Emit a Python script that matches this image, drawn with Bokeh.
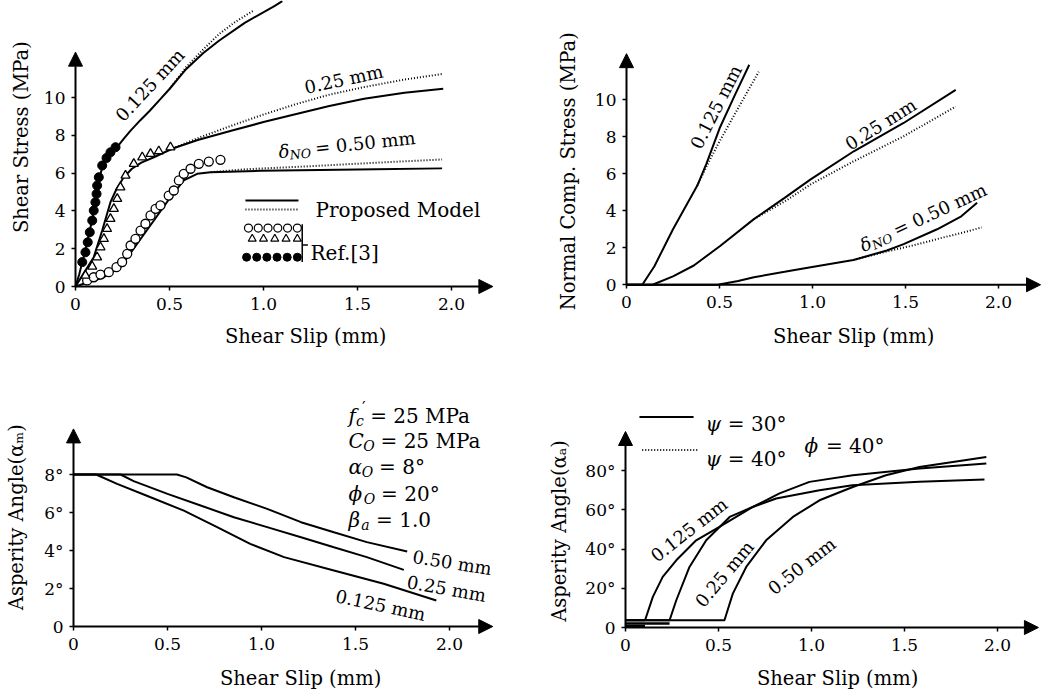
import math
import numpy as np
from bokeh.plotting import figure
from bokeh.models import Range1d, FixedTicker, Label, Arrow, NormalHead, Title
from bokeh.layouts import column, row
from bokeh.embed import file_html
from bokeh.resources import INLINE

FONT = "DejaVu Serif"

# ---------------------------------------------------------------- data
slip_ticks = [0, 0.5, 1.0, 1.5, 2.0]
slip_tick_labels = ["0", "0.5", "1.0", "1.5", "2.0"]

# Panel 1: shear stress (MPa) vs shear slip (mm)
tau_ticks = [0, 2, 4, 6, 8, 10]
tau_tick_labels = ["0", "2", "4", "6", "8", "10"]
tau_125_solid_x = [0, 0.02, 0.035, 0.05, 0.07, 0.09, 0.105, 0.115, 0.125, 0.14, 0.165, 0.19, 0.215,
                   0.255, 0.293, 0.345, 0.395, 0.45, 0.50, 0.588, 0.68, 0.763, 0.90, 1.06, 1.10]
tau_125_solid_y = [0, 0.65, 1.25, 1.8, 2.7, 3.6, 4.4, 5.1, 5.7, 6.2, 6.7, 7.0, 7.3,
                   7.8, 8.25, 8.8, 9.3, 9.9, 10.45, 11.5, 12.35, 13.0, 13.95, 14.85, 15.1]
tau_125_dot_x = [0.50, 0.588, 0.68, 0.763, 0.85, 0.947]
tau_125_dot_y = [10.45, 11.6, 12.55, 13.35, 14.0, 14.6]
tau_25_solid_x = [0, 0.05, 0.097, 0.142, 0.186, 0.22, 0.257, 0.30, 0.35, 0.417, 0.517, 0.65,
                  0.833, 1.0, 1.18, 1.35, 1.535, 1.75, 1.956]
tau_25_solid_y = [0, 0.8, 1.55, 2.96, 4.46, 5.2, 5.78, 6.23, 6.55, 6.84, 7.3, 7.75,
                  8.25, 8.7, 9.14, 9.55, 9.93, 10.25, 10.46]
tau_25_dot_x = [0.517, 0.65, 0.833, 1.0, 1.18, 1.35, 1.535, 1.75, 1.956]
tau_25_dot_y = [7.3, 7.85, 8.52, 9.1, 9.67, 10.15, 10.55, 10.95, 11.25]
tau_50_solid_x = [0, 0.06, 0.151, 0.239, 0.328, 0.417, 0.505, 0.576, 0.647, 0.718, 0.984, 1.3, 1.6, 1.95]
tau_50_solid_y = [0, 0.2, 0.49, 1.02, 2.26, 3.49, 4.72, 5.61, 5.96, 6.05, 6.12, 6.17, 6.21, 6.25]
tau_50_dot_x = [0.72, 0.9, 1.24, 1.6, 1.95]
tau_50_dot_y = [6.05, 6.2, 6.36, 6.55, 6.72]
ref_050_x = [0.062, 0.097, 0.133, 0.177, 0.218, 0.248, 0.275, 0.293, 0.319, 0.346, 0.372, 0.399,
             0.426, 0.452, 0.496, 0.523, 0.55, 0.576, 0.612, 0.656, 0.709, 0.771]
ref_050_y = [0.32, 0.49, 0.63, 0.76, 1.02, 1.29, 1.73, 2.17, 2.52, 2.96, 3.32, 3.76,
             4.11, 4.29, 4.81, 5.08, 5.61, 5.96, 6.23, 6.49, 6.61, 6.7]
ref_025_x = [0.053, 0.089, 0.115, 0.133, 0.151, 0.168, 0.186, 0.204, 0.222, 0.239, 0.266, 0.31,
             0.355, 0.399, 0.443, 0.505]
ref_025_y = [0.58, 1.06, 1.55, 2.08, 2.52, 3.05, 3.58, 4.11, 4.64, 5.25, 5.87, 6.49,
             6.84, 7.02, 7.16, 7.37]
ref_0125_x = [0.036, 0.053, 0.065, 0.076, 0.089, 0.097, 0.106, 0.112, 0.115, 0.124, 0.142, 0.165, 0.186, 0.213]
ref_0125_y = [1.29, 1.81, 2.34, 2.87, 3.49, 4.02, 4.46, 4.9, 5.34, 5.78, 6.4, 6.8, 7.1, 7.37]

# Panel 2: normal compressive stress (MPa) vs shear slip (mm)
sig_ticks = [0, 2, 4, 6, 8, 10]
sig_tick_labels = ["0", "2", "4", "6", "8", "10"]
sig_125_solid_x = [0, 0.085, 0.15, 0.25, 0.38, 0.43, 0.5, 0.58, 0.66]
sig_125_solid_y = [0, 0, 1.0, 3.0, 5.35, 6.55, 8.45, 10.2, 11.9]
sig_125_dot_x = [0.38, 0.44, 0.5, 0.595, 0.711]
sig_125_dot_y = [5.35, 6.6, 7.75, 9.46, 11.52]
sig_25_solid_x = [0, 0.14, 0.25, 0.362, 0.505, 0.685, 0.85, 0.99, 1.222, 1.49, 1.77]
sig_25_solid_y = [0, 0, 0.45, 1.04, 2.11, 3.55, 4.7, 5.7, 7.22, 8.75, 10.54]
sig_25_dot_x = [0.685, 0.85, 0.99, 1.222, 1.49, 1.77]
sig_25_dot_y = [3.55, 4.5, 5.43, 6.68, 8.03, 9.64]
sig_50_solid_x = [0, 0.49, 0.6, 0.685, 0.85, 0.99, 1.22, 1.4, 1.49, 1.67, 1.8, 1.885]
sig_50_solid_y = [0, 0, 0.2, 0.41, 0.7, 0.95, 1.34, 1.85, 2.2, 3.0, 3.7, 4.44]
sig_50_dot_x = [1.22, 1.4, 1.55, 1.7, 1.8, 1.91]
sig_50_dot_y = [1.34, 1.8, 2.15, 2.55, 2.8, 3.1]

# Panel 3: asperity angle alpha_m (deg) vs shear slip (mm)
am_ticks = [0, 2, 4, 6, 8]
am_tick_labels = ["0", "2°", "4°", "6°", "8°"]
am_050_x = [0, 0.55, 0.6, 0.711, 0.853, 1.03, 1.21, 1.385, 1.56, 1.775]
am_050_y = [8, 8, 7.85, 7.33, 6.8, 6.19, 5.49, 4.96, 4.44, 3.95]
am_025_x = [0, 0.25, 0.32, 0.5, 0.676, 0.853, 1.03, 1.21, 1.385, 1.56, 1.757]
am_025_y = [8, 8, 7.65, 6.98, 6.37, 5.75, 5.23, 4.7, 4.17, 3.65, 2.98]
am_0125_x = [0, 0.12, 0.232, 0.41, 0.587, 0.764, 0.94, 1.12, 1.385, 1.65, 1.93]
am_0125_y = [8, 8, 7.51, 6.8, 6.1, 5.23, 4.35, 3.65, 2.95, 2.25, 1.37]

# Panel 4: asperity angle alpha_a (deg) vs shear slip (mm)
aa_ticks = [0, 20, 40, 60, 80]
aa_tick_labels = ["0", "20°", "40°", "60°", "80°"]
aa_0125_x = [0, 0.105, 0.147, 0.2, 0.273, 0.38, 0.505, 0.684, 0.81, 1.043, 1.22, 1.58, 1.93]
aa_0125_y = [3.7, 3.7, 15.6, 25.8, 34.3, 44.5, 51.3, 61.5, 65.8, 70.0, 72.6, 74.3, 75.5]
aa_025_x = [0, 0.237, 0.273, 0.344, 0.434, 0.56, 0.684, 0.828, 0.989, 1.222, 1.58, 1.94]
aa_025_y = [3.7, 3.7, 13.9, 30.9, 44.5, 56.4, 61.5, 68.4, 74.3, 77.7, 81.1, 83.7]
aa_050_x = [0, 0.532, 0.577, 0.649, 0.756, 0.9, 1.043, 1.222, 1.4, 1.58, 1.94]
aa_050_y = [3.7, 3.7, 17.3, 30.9, 44.5, 56.4, 64.9, 71.7, 77.7, 81.9, 87.0]
aa_low_x_end = [0.105, 0.237]
aa_low_y = [0.8, 2.0]

# ---------------------------------------------------------------- helpers
W = {' ': 0.318, '.': 0.318, '=': 0.838, 'm': 0.948, 'M': 0.995, 'P': 0.733, 'a': 0.596,
     '°': 0.5, '(': 0.39, ')': 0.39, 'A': 0.722, 's': 0.513, 'p': 0.64, 'e': 0.592, 'r': 0.478,
     'i': 0.32, 't': 0.402, 'y': 0.565, 'n': 0.644, 'g': 0.64, 'l': 0.32, 'N': 0.812, 'O': 0.787,
     'C': 0.73, 'f': 0.37, 'c': 0.56, 'α': 0.66, 'δ': 0.6, 'ϕ': 0.76, 'β': 0.64, 'ψ': 0.8, '′': 0.3,
     'S': 0.68, 'h': 0.644, 'R': 0.77, '[': 0.39, ']': 0.39, 'o': 0.602, 'd': 0.64,
     'ₘ': 0.6, 'ₐ': 0.45}
for _d in "0123456789":
    W[_d] = 0.636


def tw(s, fs):
    return sum(W.get(ch, 0.62) for ch in s) * fs


def rich(p, x, y, parts, angle=0.0, size=18, align="center", vcenter=True):
    """parts: (text, relative size, baseline shift in em, italic, advances[, extra shift em])"""
    a = math.radians(angle)
    ca, sa = math.cos(a), math.sin(a)
    total = sum(tw(pt[0], size * pt[1]) for pt in parts if pt[4])
    d = -total / 2 if align == "center" else 0.0
    s0 = -0.36 * size if vcenter else 0.0
    for pt in parts:
        t, r, sh, it, adv = pt[:5]
        extra = pt[5] * size if len(pt) > 5 else 0.0
        fs = size * r
        lead = len(t) - len(t.lstrip(" "))
        dd = d + tw(" " * lead, fs) + extra
        s = s0 + sh * size
        p.add_layout(Label(x=x, y=y, x_offset=dd * ca - s * sa, y_offset=dd * sa + s * ca, text=t.strip(" "),
                           angle=angle, angle_units="deg", text_font=FONT,
                           text_font_size=f"{fs:.1f}px",
                           text_font_style="italic" if it else "normal",
                           text_align="left", text_baseline="alphabetic", text_color="black"))
        if adv:
            d += tw(t, fs)


def plain(p, x, y, text, angle=0.0, size=18):
    rich(p, x, y, [(text, 1, 0, False, True)], angle=angle, size=size)


TSIZE = 19.5


def make_fig(H, ax, ay, pxx, pxy, yticks, ylabels, xtip, ytip,
             xtitle, ytitle, xt_center, yt_center, ml, mb):
    """ax, ay: pixel position of the origin; ml, mb: frame extent left of / below the axes;
    xt_center, yt_center: pixel centre of the axis titles along their axis."""
    R = 6
    x_end = (528 - R - ax) / pxx
    frame_left = ax - ml
    frame_bottom = ay + mb
    p = figure(width=528, height=H,
               x_range=Range1d(-ml / pxx, x_end), y_range=Range1d(-mb / pxy, ay / pxy),
               output_backend="svg", toolbar_location=None,
               min_border_left=frame_left, min_border_right=R, min_border_top=0,
               min_border_bottom=H - frame_bottom,
               background_fill_color="white", border_fill_color="white")
    p.outline_line_color = None
    p.xgrid.visible = False
    p.ygrid.visible = False
    p.xaxis.ticker = FixedTicker(ticks=slip_ticks)
    p.xaxis.major_label_overrides = {t: s for t, s in zip(slip_ticks, slip_tick_labels)}
    p.yaxis.ticker = FixedTicker(ticks=yticks)
    p.yaxis.major_label_overrides = {t: s for t, s in zip(yticks, ylabels)}
    for ax_ in (p.xaxis[0], p.yaxis[0]):
        ax_.fixed_location = 0
        ax_.axis_line_color = None
        ax_.major_tick_line_color = "black"
        ax_.major_tick_line_width = 1.5
        ax_.major_tick_out = 4
        ax_.major_tick_in = 0
        ax_.minor_tick_line_color = None
        ax_.major_label_text_font = FONT
        ax_.major_label_text_font_size = "17px"
        ax_.major_label_text_color = "black"
    p.xaxis.major_label_standoff = 7
    p.yaxis.major_label_standoff = 6
    for (xe, ye) in ((xtip, 0), (0, ytip)):
        p.add_layout(Arrow(end=NormalHead(size=14, fill_color="black", line_color="black"),
                           x_start=0, y_start=0, x_end=xe, y_end=ye,
                           line_width=2, line_color="black"))
    xoff = (xt_center - tw(xtitle, TSIZE) / 2) - frame_left
    yoff = frame_bottom - (yt_center + tw(ytitle, TSIZE) / 2)
    p.add_layout(Title(text=xtitle, align="left", offset=xoff, standoff=0,
                       text_font=FONT, text_font_size=f"{TSIZE}px", text_font_style="normal",
                       text_color="black"), "below")
    p.add_layout(Title(text=ytitle, align="left", offset=yoff, standoff=0,
                       text_font=FONT, text_font_size=f"{TSIZE}px", text_font_style="normal",
                       text_color="black"), "left")
    return p


def solid(p, x, y, w=2.0):
    p.line(x, y, line_color="black", line_width=w)


def dotted(p, x, y):
    p.line(x, y, line_color="black", line_width=2, line_dash="1 2")


delta_parts = [("δ", 1, 0, True, True), ("NO", 0.7, -0.25, True, True), (" = 0.50 mm", 1, 0, False, True)]

# ---------------------------------------------------------------- panel 1
p1 = make_fig(356, 75, 286, 188, 18.9, tau_ticks, tau_tick_labels, 2.22, 12.4,
              "Shear Slip (mm)", "Shear Stress (MPa)", 305, 136, 43, 36)
solid(p1, tau_125_solid_x, tau_125_solid_y)
dotted(p1, tau_125_dot_x, tau_125_dot_y)
solid(p1, tau_25_solid_x, tau_25_solid_y)
dotted(p1, tau_25_dot_x, tau_25_dot_y)
solid(p1, tau_50_solid_x, tau_50_solid_y)
dotted(p1, tau_50_dot_x, tau_50_dot_y)
p1.scatter(ref_050_x, ref_050_y, marker="circle", size=9, fill_color="white", line_color="black", line_width=1.3)
p1.scatter(ref_025_x, ref_025_y, marker="triangle", size=9, fill_color="white", line_color="black", line_width=1.3)
p1.scatter(ref_0125_x, ref_0125_y, marker="circle", size=9, fill_color="black", line_color="black")
plain(p1, 0.37, 10.9, "0.125 mm", angle=47)
plain(p1, 1.42, 11.3, "0.25 mm", angle=12)
rich(p1, 1.44, 7.85, delta_parts, angle=6)
# legend (samples laid out to the left of the label column)
lx0, lx1 = 0.904, 1.186
solid(p1, [lx0, lx1], [4.55, 4.55])
dotted(p1, [lx0, lx1], [4.07, 4.07])
rich(p1, 1.277, 4.42, [("Proposed Model", 1, 0, False, True)], size=20, align="left")
p1.scatter(np.linspace(0.92, 1.18, 6), [3.09] * 6, marker="circle", size=8, fill_color="white", line_color="black", line_width=1.2)
p1.scatter(np.linspace(0.94, 1.18, 5), [2.52] * 5, marker="triangle", size=8, fill_color="white", line_color="black", line_width=1.2)
p1.scatter(np.linspace(0.91, 1.18, 6), [1.55] * 6, marker="circle", size=8, fill_color="black", line_color="black")
solid(p1, [1.206, 1.206], [3.3, 1.3], w=1.5)
solid(p1, [1.206, 1.236], [2.2, 2.2], w=1.5)
rich(p1, 1.25, 2.17, [("Ref.[3]", 1, 0, False, True)], size=20, align="left")

# ---------------------------------------------------------------- panel 2
p2 = make_fig(356, 98, 286, 186, 18.6, sig_ticks, sig_tick_labels, 2.226, 12.5,
              "Shear Slip (mm)", "Normal Comp. Stress (MPa)", 325, 173, 47, 38)
solid(p2, sig_125_solid_x, sig_125_solid_y)
dotted(p2, sig_125_dot_x, sig_125_dot_y)
solid(p2, sig_25_solid_x, sig_25_solid_y)
dotted(p2, sig_25_dot_x, sig_25_dot_y)
solid(p2, sig_50_solid_x, sig_50_solid_y)
dotted(p2, sig_50_dot_x, sig_50_dot_y)
plain(p2, 0.45, 9.78, "0.125 mm", angle=63)
plain(p2, 1.348, 8.98, "0.25 mm", angle=32)
rich(p2, 1.58, 3.96, delta_parts, angle=25)

# ---------------------------------------------------------------- panel 3
p3 = make_fig(340, 73, 270, 188, 19.0, am_ticks, am_tick_labels, 2.23, 10.4,
              "Shear Slip (mm)", "Asperity Angle(αₘ)", 300, 161, 46, 38)
solid(p3, am_050_x, am_050_y)
solid(p3, am_025_x, am_025_y)
solid(p3, am_0125_x, am_0125_y)
plain(p3, 2.02, 3.7, "0.50 mm", angle=-9)
plain(p3, 1.99, 2.33, "0.25 mm", angle=-10)
plain(p3, 1.64, 1.46, "0.125 mm", angle=-12)
tb_x = 1.463
rich(p3, tb_x, 11.1, [("f", 1, 0, True, True), ("′", 0.8, 0.42, False, False, 0.3), ("c", 0.7, -0.25, True, True),
                      (" = 25 MPa", 1, 0, False, True)], size=20, align="left", vcenter=False)
rich(p3, tb_x, 9.75, [("C", 1, 0, True, True), ("O", 0.7, -0.25, True, True), (" = 25 MPa", 1, 0, False, True)],
     size=20, align="left", vcenter=False)
rich(p3, tb_x, 8.38, [("α", 1, 0, True, True), ("O", 0.7, -0.25, True, True), (" = 8°", 1, 0, False, True)],
     size=20, align="left", vcenter=False)
rich(p3, tb_x, 6.98, [("ϕ", 1, 0, True, True), ("O", 0.7, -0.25, True, True), (" = 20°", 1, 0, False, True)],
     size=20, align="left", vcenter=False)
rich(p3, tb_x, 5.58, [("β", 1, 0, True, True), ("a", 0.7, -0.25, True, True), (" = 1.0", 1, 0, False, True)],
     size=20, align="left", vcenter=False)

# ---------------------------------------------------------------- panel 4
p4 = make_fig(340, 97, 271, 186, 1.96, aa_ticks, aa_tick_labels, 2.22, 100,
              "Shear Slip (mm)", "Asperity Angle(αₐ)", 309, 174, 55, 37)
solid(p4, aa_0125_x, aa_0125_y)
solid(p4, aa_025_x, aa_025_y)
solid(p4, aa_050_x, aa_050_y)
for xe, ye in zip(aa_low_x_end, aa_low_y):
    solid(p4, [0, xe], [ye, ye], w=2.5)
plain(p4, 0.32, 52.5, "0.125 mm", angle=38)
plain(p4, 0.505, 29.5, "0.25 mm", angle=50)
plain(p4, 0.926, 34.0, "0.50 mm", angle=38)
solid(p4, [0.075, 0.366], [107.4, 107.4])
dotted(p4, [0.09, 0.39], [90.5, 90.5])
rich(p4, 0.43, 107.3, [("ψ", 1, 0, True, True), (" = 30°", 1, 0, False, True)], size=20, align="left")
rich(p4, 0.43, 89.5, [("ψ", 1, 0, True, True), (" = 40°", 1, 0, False, True)], size=20, align="left")
rich(p4, 0.962, 96.4, [("ϕ", 1, 0, True, True), (" = 40°", 1, 0, False, True)], size=20, align="left")

layout = column(row(p1, p2), row(p3, p4))
open("out.html", "w").write(file_html(layout, INLINE))
